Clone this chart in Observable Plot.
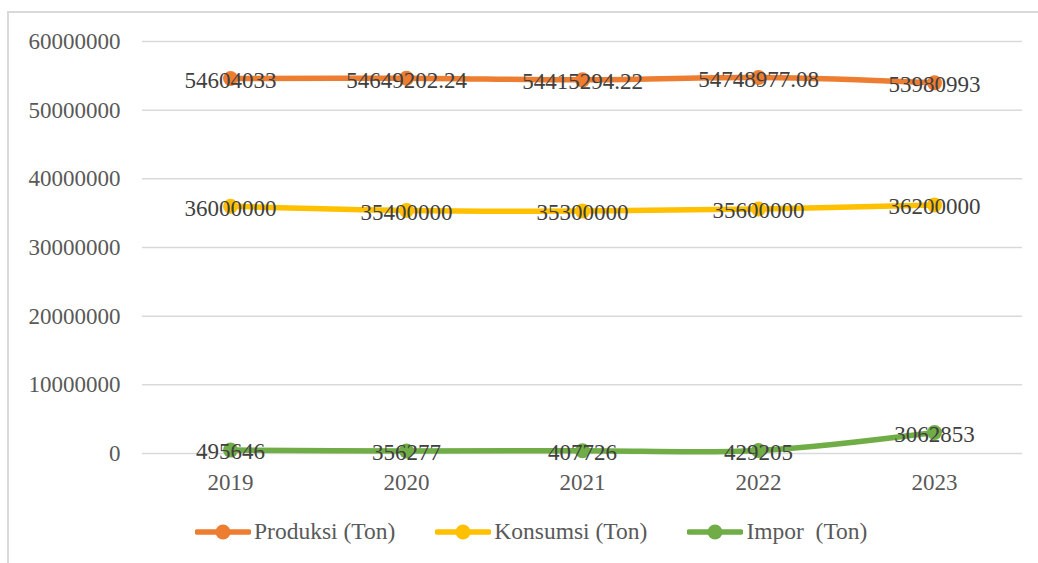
<!DOCTYPE html>
<html>
<head>
<meta charset="utf-8">
<script src="https://cdn.jsdelivr.net/npm/d3@7"></script>
<script src="https://cdn.jsdelivr.net/npm/@observablehq/plot@0.6"></script>
<style>
  html, body { margin: 0; padding: 0; background: #fff; width: 1038px; height: 563px; overflow: hidden; }
  #frame { position: absolute; left: 7px; top: 11px; width: 1100px; height: 700px; border-top: 2px solid #d9d9d9; border-left: 2px solid #d9d9d9; }
  #chart { position: absolute; left: 0; top: 0; }
  #chart svg, #chart svg text { font-family: "Liberation Serif", "Times New Roman", serif !important; }
  #legend { position: absolute; left: 195px; top: 518px; display: flex; align-items: center; font-family: "Liberation Serif", "Times New Roman", serif; font-size: 23.5px; color: #595959; white-space: pre; }
  .item { display: flex; align-items: center; margin-right: 40px; }
  .item svg { margin-right: 3px; }
</style>
</head>
<body>
<div id="frame"></div>
<div id="chart"></div>
<div id="legend"></div>
<script>
const years = ["2019", "2020", "2021", "2022", "2023"];
const seriesNames = ["Produksi (Ton)", "Konsumsi (Ton)", "Impor  (Ton)"];
const seriesColors = ["#ED7D31", "#FFC000", "#70AD47"];
const produksi = [54604033, 54649202.24, 54415294.22, 54748977.08, 53980993];
const konsumsi = [36000000, 35400000, 35300000, 35600000, 36200000];
const impor = [495646, 356277, 407726, 429205, 3062853];
const labelTexts = [
  ["54604033", "54649202.24", "54415294.22", "54748977.08", "53980993"],
  ["36000000", "35400000", "35300000", "35600000", "36200000"],
  ["495646", "356277", "407726", "429205", "3062853"]
];
const yTicks = [0, 10000000, 20000000, 30000000, 40000000, 50000000, 60000000];

const allValues = [produksi, konsumsi, impor];
const data = [];
allValues.forEach((vals, si) => {
  vals.forEach((v, i) => data.push({series: seriesNames[si], year: years[i], value: v, label: labelTexts[si][i]}));
});

const font = '"Liberation Serif", "Times New Roman", serif';

const chart = Plot.plot({
  width: 1038,
  height: 498,
  marginLeft: 142,
  marginRight: 16,
  marginTop: 41,
  marginBottom: 45,
  style: {fontFamily: font, fontSize: "23px", background: "transparent", overflow: "visible"},
  x: {type: "point", domain: years, padding: 0.5, label: null},
  y: {domain: [0, 60000000], label: null},
  color: {domain: seriesNames, range: seriesColors},
  marks: [
    Plot.gridY(yTicks, {stroke: "#d9d9d9", strokeOpacity: 1, strokeWidth: 1.5}),
    Plot.axisY({ticks: yTicks, tickSize: 0, tickPadding: 22, tickFormat: d3.format("d"), fill: "#595959", fontSize: 23, fontFamily: font, label: null}),
    Plot.axisX({tickSize: 0, tickPadding: 20, fill: "#595959", fontSize: 23, fontFamily: font, label: null}),
    Plot.line(data, {x: "year", y: "value", z: "series", stroke: "series", strokeWidth: 5.5, curve: "catmull-rom"}),
    Plot.dot(data, {x: "year", y: "value", fill: "series", r: 7.5}),
    Plot.text(data, {x: "year", y: "value", text: "label", fill: "#404040", fontSize: 23, fontFamily: font, dy: 2})
  ]
});
document.getElementById("chart").appendChild(chart);

const legend = document.getElementById("legend");
seriesNames.forEach((name, i) => {
  const item = document.createElement("div");
  item.className = "item";
  item.innerHTML = `<svg width="56" height="20"><line x1="2" y1="10" x2="54" y2="10" stroke="${seriesColors[i]}" stroke-width="5.5" stroke-linecap="round"/><circle cx="28" cy="10" r="7.5" fill="${seriesColors[i]}"/></svg><span>${name}</span>`;
  legend.appendChild(item);
});
</script>
</body>
</html>
